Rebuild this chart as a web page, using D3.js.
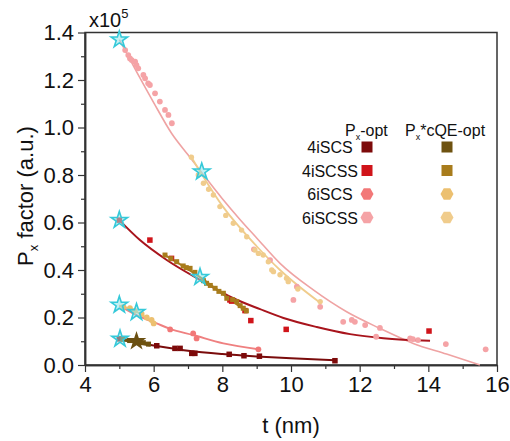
<!DOCTYPE html>
<html><head><meta charset="utf-8">
<script src="https://cdn.jsdelivr.net/npm/d3@7"></script>
<style>body{margin:0;background:#fff}svg{display:block;font-family:"Liberation Sans",Arial,sans-serif}</style>
</head><body><svg id="c" width="510" height="441"></svg>
<script>
// ---- data (y in units of 1e5) ----
const xTicks = [4,6,8,10,12,14,16];
const yTicks = [0.0,0.2,0.4,0.6,0.8,1.0,1.2,1.4];
const seriesNames = ["4iSCS","4iSCSS","6iSCS","6iSCSS"];

const s6iSCSS_px = [[5.17,1.326],[5.26,1.305],[5.31,1.291],[5.36,1.284],[5.46,1.277],[5.50,1.263],[5.55,1.249],[5.70,1.221],[5.75,1.207],[5.84,1.186],[5.89,1.179],[6.04,1.144],[6.18,1.109],[6.33,1.074],[6.43,1.053],[6.53,1.018],
  [8.92,0.487],[9.39,0.442],[10.07,0.274],[10.17,0.33],[10.85,0.245],[11.52,0.182],[11.77,0.19],[11.86,0.182],[12.16,0.168],[12.48,0.119],[12.59,0.156],[13.47,0.112],[13.55,0.109],[13.70,0.105],[14.51,0.088],[15.67,0.066]];
const s6iSCSS_pxFit = [[5.0,1.37],[5.5,1.235],[6.0,1.105],[6.52,0.976],[7.0,0.885],[7.4,0.81],[8.0,0.70],[8.5,0.615],[9.0,0.535],[9.68,0.428],[10.65,0.316],[11.62,0.224],[12.59,0.154],[13.56,0.091],[14.53,0.046],[15.5,0.0]];
const s6iSCSS_cqe = [[7.1,0.875],[7.3,0.80],[7.45,0.765],[7.6,0.74],[7.74,0.716],[7.93,0.667],[8.1,0.63],[8.32,0.597],[8.56,0.568],[8.71,0.54],[8.95,0.484],[9.05,0.47],[9.19,0.463],[9.34,0.435],[9.44,0.40],[9.49,0.393],[9.68,0.38],[9.87,0.365],[9.92,0.351],[10.2,0.32],[10.85,0.267]];
const s6iSCSS_cqeFit = [[7.06,0.884],[8.0,0.67],[9.0,0.50],[9.68,0.40],[10.85,0.262]];

const s6iSCS_px = [[6.48,0.15],[7.15,0.133],[7.25,0.112],[9.05,0.066]];
const s6iSCS_pxFit = [[5.0,0.25],[5.5,0.21],[6.09,0.175],[6.48,0.152],[7.15,0.126],[8.03,0.091],[9.05,0.066]];
const s6iSCS_cqe = [[5.12,0.245],[5.31,0.239],[5.45,0.228],[5.65,0.215],[5.8,0.20],[5.94,0.19],[6.0,0.175]];
const s6iSCS_cqeFit = [[5.0,0.25],[5.5,0.225],[6.0,0.175]];

const s4iSCSS_px = [[5.0,0.61],[5.89,0.526],[6.52,0.449],[8.22,0.274],[8.27,0.269],[8.66,0.229],[8.83,0.187],[9.86,0.15],[14.02,0.143]];
const s4iSCSS_pxFit = [[5.0,0.61],[5.6,0.526],[6.38,0.442],[7.35,0.358],[8.32,0.281],[9.1,0.235],[9.78,0.198],[10.75,0.16],[11.72,0.13],[12.69,0.113],[14.05,0.102]];
const s4iSCSS_cqe = [[6.33,0.463],[6.5,0.448],[6.67,0.435],[6.86,0.417],[6.95,0.41],[7.06,0.407],[7.2,0.39],[7.45,0.355],[7.54,0.344],[7.65,0.335],[7.79,0.323],[7.9,0.31],[8.03,0.302],[8.13,0.281],[8.3,0.275],[8.42,0.267],[8.52,0.25],[8.61,0.239],[8.7,0.228]];
const s4iSCSS_cqeFit = [[6.33,0.463],[7.35,0.37],[8.0,0.30],[8.7,0.225]];

const s4iSCS_px = [[5.0,0.11],[6.09,0.081],[6.62,0.07],[6.77,0.07],[7.11,0.049],[7.2,0.049],[8.2,0.045],[8.63,0.039],[9.08,0.037],[11.28,0.018]];
const s4iSCS_pxFit = [[5.0,0.11],[5.5,0.095],[6.09,0.08],[7.0,0.06],[8.0,0.046],[9.0,0.036],[10.0,0.028],[11.28,0.02]];
const s4iSCS_cqe = [[5.1,0.108],[5.3,0.103],[5.7,0.094],[5.85,0.088]];
const s4iSCS_cqeFit = [[5.0,0.11],[5.9,0.085]];

const cyanStars = [[5.0,1.37],[7.4,0.814],[5.0,0.61],[7.35,0.37],[5.0,0.253],[5.5,0.222],[5.02,0.11]];
const brownStars = [[5.5,0.1]];

// ---- layout ----
const svg = d3.select("#c");
const L=85, R=497, T=32.5, B=365;
const x = d3.scaleLinear().domain([4,16]).range([L,R]);
const y = d3.scaleLinear().domain([0,1.4]).range([B,T]);
const line = d3.line().x(d=>x(d[0])).y(d=>y(d[1])).curve(d3.curveMonotoneX);

const C = {
  px4:"#7d0a0a", px4s:"#d0141a", px6:"#f27878", px6s:"#f5a3a6",
  cq4:"#6e5210", cq4s:"#a87c1c", cq6:"#ecc070", cq6s:"#f0cc8c",
  fit4:"#7a0c0c", fit4s:"#a8141c", fit6:"#ef8080", fit6s:"#efa3a3"
};

// frame
svg.append("rect").attr("x",L).attr("y",T).attr("width",R-L).attr("height",B-T)
  .attr("fill","none").attr("stroke","#333").attr("stroke-width",1.5);

// axes
const gx = svg.append("g").attr("transform",`translate(0,${B})`)
  .call(d3.axisBottom(x).tickValues(xTicks).tickSize(7).tickSizeOuter(0).tickPadding(4).tickFormat(d3.format("d")));
svg.append("g").attr("transform",`translate(0,${B})`)
  .call(d3.axisBottom(x).tickValues(d3.range(5,16,2)).tickSize(4).tickSizeOuter(0).tickFormat(""));
const gy = svg.append("g").attr("transform",`translate(${L},0)`)
  .call(d3.axisLeft(y).tickValues(yTicks).tickSize(7).tickSizeOuter(0).tickPadding(4).tickFormat(d3.format(".1f")));
svg.append("g").attr("transform",`translate(${L},0)`)
  .call(d3.axisLeft(y).tickValues(d3.range(0.1,1.4,0.2)).tickSize(4).tickSizeOuter(0).tickFormat(""));
svg.selectAll(".domain").attr("stroke","#333").attr("stroke-width",1.5);
svg.selectAll(".tick line").attr("stroke","#333").attr("stroke-width",1.2);
gx.selectAll("text").attr("font-size",22).attr("fill","#111").attr("font-family","Liberation Sans, Arial");
gy.selectAll("text").attr("font-size",22).attr("fill","#111").attr("font-family","Liberation Sans, Arial");

// titles
svg.append("text").attr("x",x(10)).attr("y",433).attr("text-anchor","middle")
  .attr("font-size",22).attr("fill","#111").text("t (nm)");
const yt = svg.append("text").attr("transform","translate(33,196) rotate(-90)").attr("text-anchor","middle")
  .attr("font-size",22).attr("fill","#111");
yt.append("tspan").text("P");
yt.append("tspan").attr("font-size",13).attr("dy",5).text("x");
yt.append("tspan").attr("dy",-5).text(" factor (a.u.)");
const ex = svg.append("text").attr("x",89).attr("y",27).attr("font-size",20).attr("fill","#111");
ex.append("tspan").text("x10");
ex.append("tspan").attr("font-size",13).attr("dy",-9).text("5");

// fit lines
const fits = [
  [s6iSCSS_pxFit,C.fit6s,1.6],[s6iSCSS_cqeFit,C.cq6s,1.8],
  [s6iSCS_pxFit,C.fit6,2],[s6iSCS_cqeFit,C.cq6,2],
  [s4iSCSS_pxFit,C.fit4s,2],[s4iSCSS_cqeFit,C.cq4s,2],
  [s4iSCS_pxFit,C.fit4,2],[s4iSCS_cqeFit,C.cq4,3.5]
];
fits.forEach(([d,c,w])=>svg.append("path").datum(d).attr("d",line).attr("fill","none").attr("stroke",c).attr("stroke-width",w));

// points
function dots(d,c,r){svg.append("g").selectAll("circle").data(d).join("circle")
  .attr("cx",p=>x(p[0])).attr("cy",p=>y(p[1])).attr("r",r).attr("fill",c);}
function squares(d,c,s){svg.append("g").selectAll("rect").data(d).join("rect")
  .attr("x",p=>x(p[0])-s/2).attr("y",p=>y(p[1])-s/2).attr("width",s).attr("height",s).attr("fill",c);}
dots(s6iSCSS_px,C.px6s,2.9);
dots(s6iSCSS_cqe,C.cq6s,2.7);
dots(s6iSCS_px,C.px6,2.9);
dots(s6iSCS_cqe,C.cq6,2.9);
squares(s4iSCSS_px,C.px4s,5.5);
squares(s4iSCSS_cqe,C.cq4s,5);
squares(s4iSCS_px,C.px4,5.5);
squares(s4iSCS_cqe,C.cq4,5);

// stars
const star = d3.symbol().type(d3.symbolStar);
svg.append("g").selectAll("path").data(cyanStars).join("path")
  .attr("transform",p=>`translate(${x(p[0])},${y(p[1])})`).attr("d",star.size(85))
  .attr("fill","#8fe3ea").attr("fill-opacity",0.55).attr("stroke","#35c9d9").attr("stroke-width",1.6);
svg.append("g").selectAll("path").data(brownStars).join("path")
  .attr("transform",p=>`translate(${x(p[0])},${y(p[1])})`).attr("d",star.size(120))
  .attr("fill","#6b5012");

// legend
const hex = d3.symbol().type({draw(ctx,size){const r=Math.sqrt(size/2.598);for(let i=0;i<6;i++){const a=Math.PI/3*i;const px=r*Math.cos(a),py=r*Math.sin(a);i?ctx.lineTo(px,py):ctx.moveTo(px,py);}ctx.closePath();}});
const lg = svg.append("g").attr("font-size",16).attr("fill","#111");
const h1 = lg.append("text").attr("x",345).attr("y",136);
h1.append("tspan").text("P"); h1.append("tspan").attr("font-size",9).attr("dy",4).text("x"); h1.append("tspan").attr("dy",-4).text("-opt");
const h2 = lg.append("text").attr("x",405).attr("y",136);
h2.append("tspan").text("P"); h2.append("tspan").attr("font-size",9).attr("dy",4).text("x"); h2.append("tspan").attr("dy",-4).text("*cQE-opt");
const legCols = [[C.px4,C.px4s,C.px6,C.px6s],[C.cq4,C.cq4s,C.cq6,C.cq6s]];
seriesNames.forEach((n,i)=>{
  const yy = 147+i*23.5;
  lg.append("text").attr("x",330).attr("y",yy+6).attr("text-anchor","middle").text(n);
  [367,447].forEach((cx,j)=>{
    const c = legCols[j][i];
    if(i<2) lg.append("rect").attr("x",cx-5.5).attr("y",yy-5.5).attr("width",11).attr("height",11).attr("fill",c);
    else lg.append("path").attr("transform",`translate(${cx},${yy})`).attr("d",hex.size(110)).attr("fill",c);
  });
});
</script></body></html>
